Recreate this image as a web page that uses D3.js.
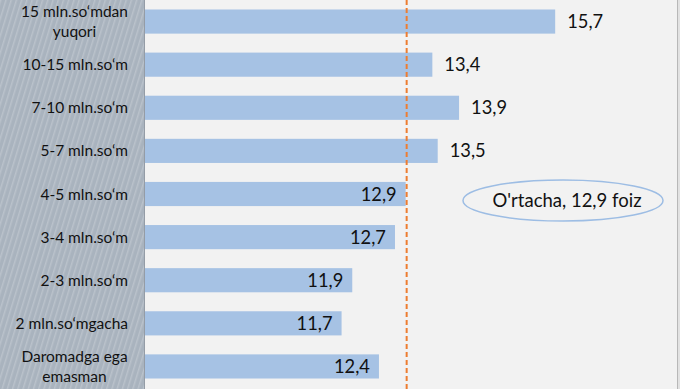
<!DOCTYPE html>
<html><head><meta charset="utf-8">
<script src="https://cdn.jsdelivr.net/npm/d3@7"></script>
<style>html,body{margin:0;padding:0;background:#f2f2f2;}svg{display:block;}</style>
</head><body>
<svg id="chart" width="680" height="389"></svg>
<script>
const categories = [
  ["15 mln.so‘mdan", "yuqori"],
  ["10-15 mln.so‘m"],
  ["7-10 mln.so‘m"],
  ["5-7 mln.so‘m"],
  ["4-5 mln.so‘m"],
  ["3-4 mln.so‘m"],
  ["2-3 mln.so‘m"],
  ["2 mln.so‘mgacha"],
  ["Daromadga ega", "emasman"]
];
const values = [15.7, 13.4, 13.9, 13.5, 12.9, 12.7, 11.9, 11.7, 12.4];
const average = 12.9;
const averageLabel = "O'rtacha, 12,9 foiz";
const xDomain = [8, 18];

const W = 680, H = 389;
const svg = d3.select("#chart");
const fmt = v => d3.format(".1f")(v).replace(".", ",");
const font = "Lato, 'Open Sans', sans-serif";

// background
svg.append("rect").attr("width", W).attr("height", H).attr("fill", "#f2f2f2");
svg.append("rect").attr("x", 677).attr("width", 3).attr("height", H).attr("fill", "#e2e2e2");
svg.append("line").attr("x1", 677.5).attr("x2", 677.5).attr("y1", 0).attr("y2", H)
  .attr("stroke", "#b8b8b8").attr("stroke-width", 1);

// left striped panel
const defs = svg.append("defs");
const pat = defs.append("pattern").attr("id", "stripes").attr("patternUnits", "userSpaceOnUse")
  .attr("width", 5).attr("height", 10).attr("patternTransform", "rotate(17)");
pat.append("rect").attr("width", 5).attr("height", 10).attr("fill", "#a9b3be");
pat.append("rect").attr("width", 1.5).attr("height", 10).attr("fill", "#bac2cb");
svg.append("rect").attr("x", 0).attr("y", 0).attr("width", 144).attr("height", H).attr("fill", "url(#stripes)");
svg.append("line").attr("x1", 144.5).attr("x2", 144.5).attr("y1", 0).attr("y2", H)
  .attr("stroke", "#949ca6").attr("stroke-width", 1);

const x = d3.scaleLinear().domain(xDomain).range([144, 678]);
const y = d3.scaleBand().domain(d3.range(categories.length)).range([0, 388])
  .paddingInner(0.44).paddingOuter(0.22);

// bars
svg.append("g").selectAll("rect").data(values).join("rect")
  .attr("x", x(xDomain[0]) + 1)
  .attr("y", (d, i) => y(i))
  .attr("width", d => x(d) - x(xDomain[0]) - 1)
  .attr("height", y.bandwidth())
  .attr("fill", "#a6c2e4");

// value labels
svg.append("g").selectAll("text").data(values).join("text")
  .attr("x", d => d > average ? x(d) + 12 : x(d) - 9)
  .attr("y", (d, i) => y(i) + y.bandwidth() / 2)
  .attr("dy", "0.36em")
  .attr("text-anchor", d => d > average ? "start" : "end")
  .attr("font-family", font).attr("font-size", 18.3).attr("fill", "#111")
  .text(d => fmt(d));

// category labels
const catG = svg.append("g");
categories.forEach((lines, i) => {
  const cy = y(i) + y.bandwidth() / 2;
  if (lines.length === 1) {
    catG.append("text").attr("x", 128).attr("y", cy).attr("dy", "0.36em")
      .attr("text-anchor", "end").attr("font-family", font).attr("font-size", 15.5)
      .attr("fill", "#111").text(lines[0]);
  } else {
    const t = catG.append("text").attr("font-family", font).attr("font-size", 15.5)
      .attr("fill", "#111").attr("text-anchor", "middle").attr("x", 74.5);
    lines.forEach((l, k) => {
      t.append("tspan").attr("x", 74.5).attr("y", cy + (k - 0.5) * 20.5).attr("dy", "0.36em").text(l);
    });
  }
});

// average line
svg.append("line").attr("x1", x(average) + 1).attr("x2", x(average) + 1)
  .attr("y1", 0).attr("y2", H)
  .attr("stroke", "#ed7d31").attr("stroke-width", 2).attr("stroke-dasharray", "5,3");

// average ellipse annotation
svg.append("ellipse").attr("cx", 563).attr("cy", 200.5).attr("rx", 100).attr("ry", 20.5)
  .attr("fill", "#f2f2f2").attr("stroke", "#9dbde4").attr("stroke-width", 1.5);
svg.append("text").attr("x", 567).attr("y", 200.5).attr("dy", "0.36em").attr("text-anchor", "middle")
  .attr("font-family", font).attr("font-size", 18.5).attr("fill", "#111").text(averageLabel);
</script>
</body></html>
